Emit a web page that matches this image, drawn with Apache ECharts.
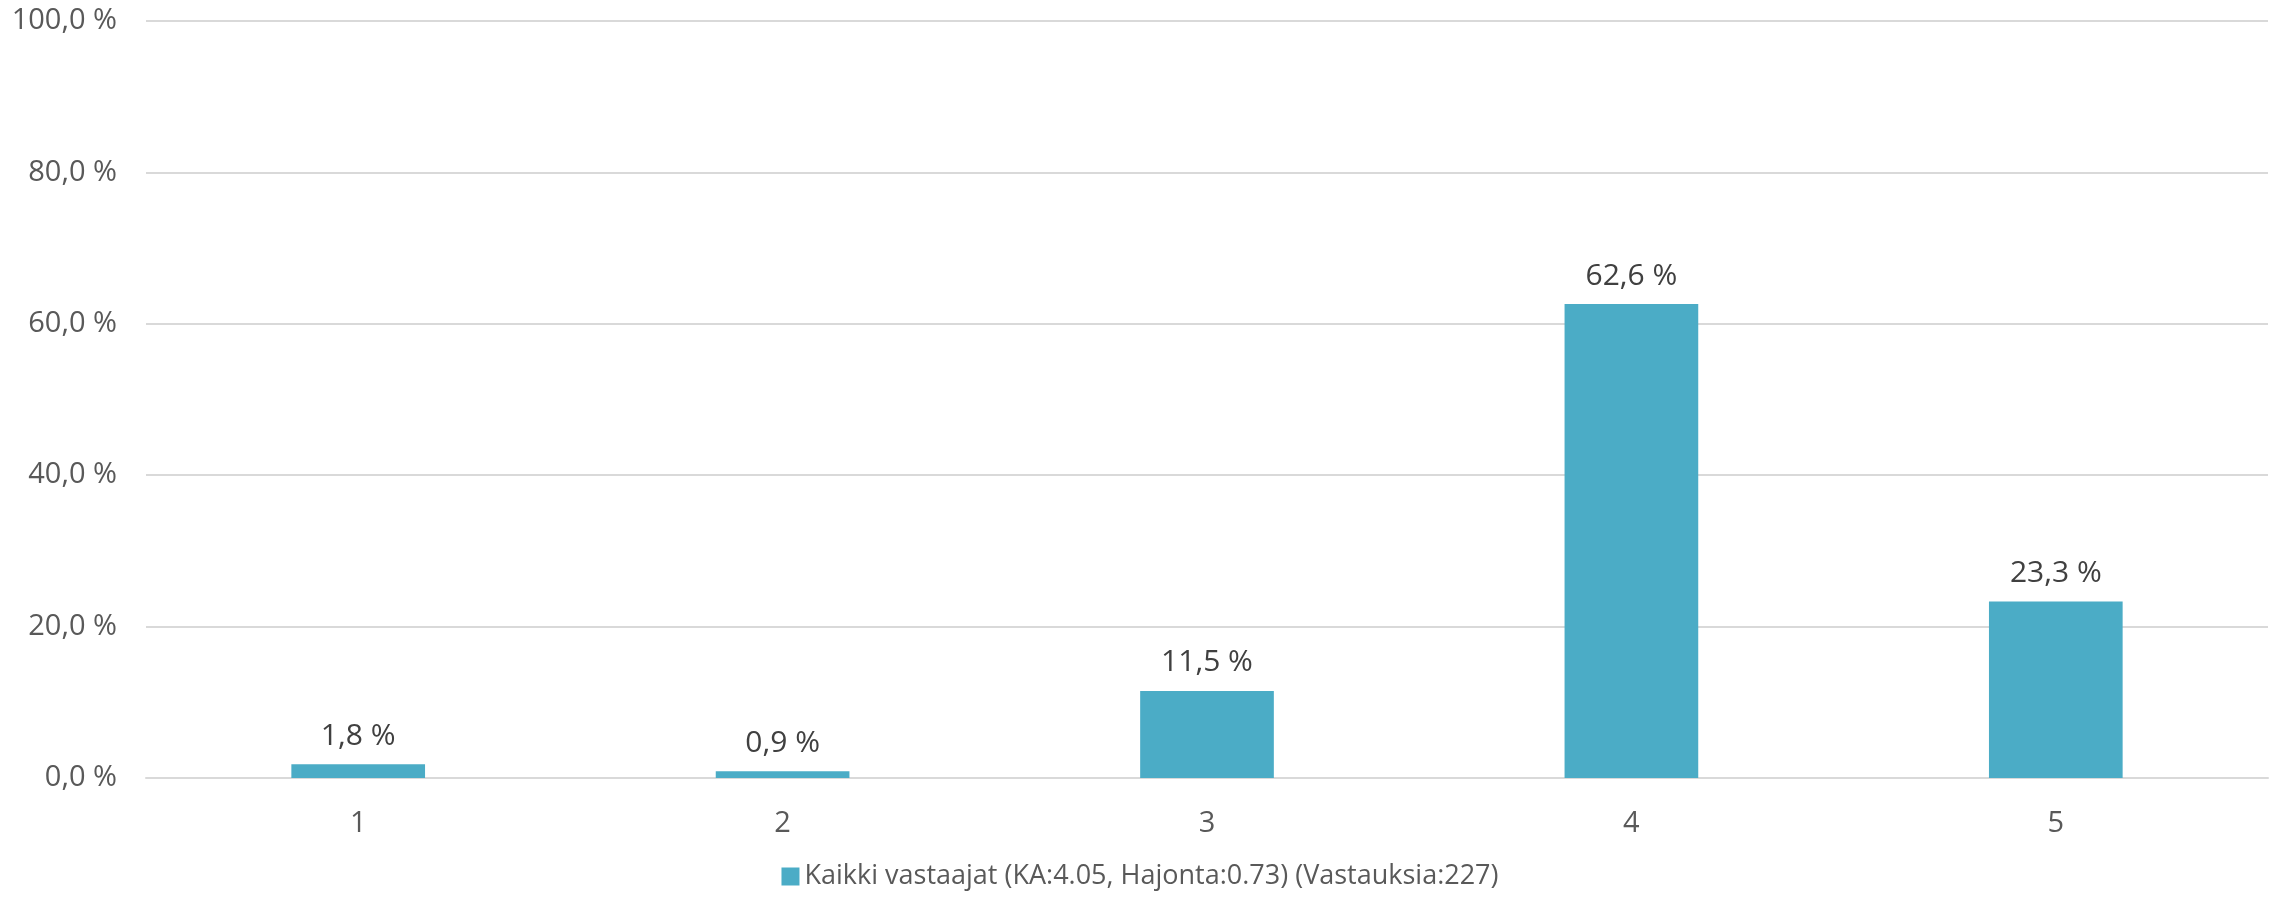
<!DOCTYPE html>
<html>
<head>
<meta charset="utf-8">
<script src="https://cdn.jsdelivr.net/npm/echarts@6/dist/echarts.min.js"></script>
<style>
  html, body { margin: 0; padding: 0; background: #fff; }
  #chart { width: 2280px; height: 899px; }
</style>
</head>
<body>
<div id="chart"></div>
<script>
const categories = ['1', '2', '3', '4', '5']
const values = [1.8, 0.9, 11.5, 62.6, 23.3]
const seriesName = 'Kaikki vastaajat (KA:4.05, Hajonta:0.73) (Vastauksia:227)'

const fmt = v => v.toFixed(1).replace('.', ',') + ' %'

var myChart = echarts.init(document.getElementById('chart'))
var option = {
  animation: false,
  textStyle: { fontFamily: 'Open Sans' },
  grid: { left: 146, right: 12, top: 21, bottom: 121 },
  legend: {
    data: [seriesName],
    bottom: 4,
    left: 'center',
    itemWidth: 18,
    itemHeight: 18,
    itemGap: 10,
    icon: 'rect',
    textStyle: { fontSize: 27, color: '#595959', fontFamily: 'Open Sans' }
  },
  xAxis: {
    type: 'category',
    data: categories,
    axisLine: { lineStyle: { color: '#d9d9d9', width: 2 } },
    axisTick: { show: false },
    axisLabel: { fontSize: 29, color: '#595959', margin: 31 }
  },
  yAxis: {
    type: 'value',
    min: 0,
    max: 100,
    interval: 20,
    axisLine: { show: false },
    axisTick: { show: false },
    splitLine: { lineStyle: { color: '#d9d9d9', width: 2 } },
    axisLabel: { fontSize: 29, color: '#595959', margin: 29, formatter: fmt }
  },
  series: [
    {
      name: seriesName,
      type: 'bar',
      data: values,
      barWidth: '31.5%',
      itemStyle: { color: '#4bacc6' },
      label: {
        show: true,
        position: 'top',
        distance: 13,
        fontSize: 30,
        color: '#404040',
        formatter: p => fmt(p.value)
      }
    }
  ]
}
option && myChart.setOption(option)
</script>
</body>
</html>
